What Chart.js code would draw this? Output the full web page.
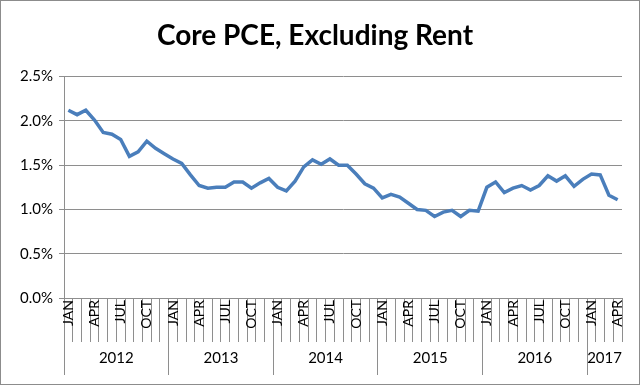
<!DOCTYPE html>
<html>
<head>
<meta charset="utf-8">
<script src="https://cdn.jsdelivr.net/npm/chart.js@4"></script>
<style>
  body { margin: 0; background: #fff; }
  #wrap { width: 640px; height: 385px; box-sizing: border-box; border: 1px solid #8c8c8c; }
</style>
</head>
<body>
<div id="wrap"><canvas id="pce" width="638" height="383"></canvas></div>
<script>
var years = ['2012', '2013', '2014', '2015', '2016', '2017'];
var monthNames = ['JAN', 'FEB', 'MAR', 'APR', 'MAY', 'JUN', 'JUL', 'AUG', 'SEP', 'OCT', 'NOV', 'DEC'];
var shownMonths = ['JAN', 'APR', 'JUL', 'OCT'];
var yTicks = [0, 0.5, 1.0, 1.5, 2.0, 2.5];

// Jan 2012 .. Apr 2017, percent
var corePce = [
  2.12, 2.07, 2.12, 2.01, 1.87, 1.85, 1.79, 1.60, 1.65, 1.77, 1.69, 1.63,
  1.57, 1.52, 1.39, 1.27, 1.24, 1.25, 1.25, 1.31, 1.31, 1.24, 1.30, 1.35,
  1.25, 1.21, 1.32, 1.48, 1.56, 1.51, 1.57, 1.50, 1.50, 1.40, 1.29, 1.24,
  1.13, 1.17, 1.14, 1.07, 1.00, 0.99, 0.92, 0.97, 0.99, 0.92, 0.99, 0.98,
  1.25, 1.31, 1.19, 1.24, 1.27, 1.22, 1.27, 1.38, 1.32, 1.38, 1.26, 1.34,
  1.40, 1.39, 1.16, 1.11
];

var months = [];
var yearOf = [];
for (var i = 0; i < corePce.length; i++) {
  months.push(monthNames[i % 12]);
  yearOf.push(years[Math.floor(i / 12)]);
}

// year label sits at the category just before the middle of its span
function yearLabelIndex(idx) {
  var y = Math.floor(idx / 12);
  var start = y * 12;
  var end = Math.min(start + 12, corePce.length);
  return idx === Math.floor((start + end) / 2) - 1;
}
function isYearEdge(idx) {
  return idx % 12 === 0 || idx === corePce.length;
}

var gridGray = '#8e8e8e';
var font = 'Lato, Carlito, Calibri, sans-serif';

new Chart(document.getElementById('pce').getContext('2d'), {
  type: 'line',
  data: {
    labels: months,
    datasets: [{
      label: 'Core PCE, Excluding Rent',
      data: corePce,
      borderColor: '#4a7ebb',
      borderWidth: 3.5,
      pointRadius: 0,
      tension: 0,
      fill: false
    }]
  },
  options: {
    responsive: false,
    animation: false,
    layout: { padding: { left: 7, right: 17, top: 0, bottom: 9 } },
    plugins: {
      legend: { display: false },
      tooltip: { enabled: false },
      title: {
        display: true,
        text: 'Core PCE, Excluding Rent',
        color: '#000',
        font: { family: font, size: 28, weight: 'bold' },
        padding: { top: 18, bottom: 24 }
      }
    },
    scales: {
      y: {
        min: 0,
        max: 2.5,
        afterBuildTicks: function (s) { s.ticks = yTicks.map(function (v) { return { value: v }; }); },
        afterFit: function (s) { s.width = 56; },
        border: { display: true, color: gridGray, width: 1 },
        grid: { color: gridGray, lineWidth: 1, tickLength: 5 },
        ticks: {
          color: '#000',
          padding: 6,
          font: { family: font, size: 15 },
          callback: function (v) { return v.toFixed(1) + '%'; }
        }
      },
      x: {
        type: 'category',
        offset: true,
        border: { display: true, color: gridGray },
        grid: { offset: true, drawOnChartArea: false, color: gridGray, tickLength: 44 },
        afterFit: function (s) { s.height = 44; },
        ticks: {
          autoSkip: false,
          minRotation: 90,
          maxRotation: 90,
          padding: -42,
          color: '#000',
          font: { family: font, size: 14 },
          callback: function (v, idx) {
            var m = months[idx];
            return shownMonths.indexOf(m) >= 0 ? m : '';
          }
        }
      },
      x2: {
        type: 'category',
        position: 'bottom',
        labels: yearOf,
        offset: true,
        border: { display: false },
        grid: {
          offset: true,
          drawOnChartArea: false,
          tickLength: 33,
          color: function (ctx) { return isYearEdge(ctx.index) ? gridGray : 'rgba(0,0,0,0)'; }
        },
        afterFit: function (s) { s.height = 33; },
        ticks: {
          autoSkip: false,
          maxRotation: 0,
          minRotation: 0,
          padding: -26,
          labelOffset: 4.35,
          color: '#000',
          font: { family: font, size: 15 },
          callback: function (v, idx) { return yearLabelIndex(idx) ? yearOf[idx] : ''; }
        }
      }
    }
  }
});
</script>
</body>
</html>
